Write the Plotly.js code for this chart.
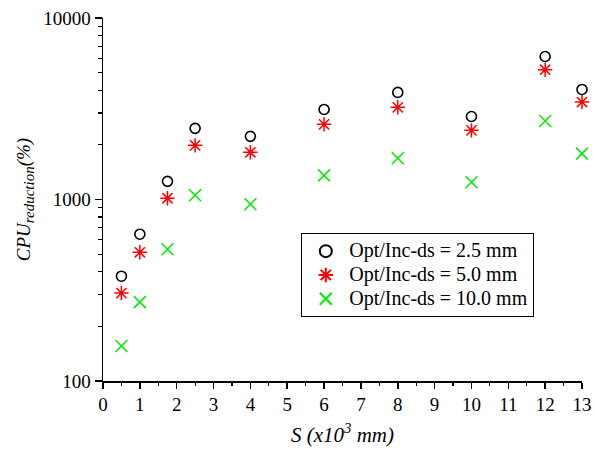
<!DOCTYPE html>
<html><head><meta charset="utf-8">
<script src="https://cdn.plot.ly/plotly-3.0.1.min.js"></script>
<style>body{margin:0;background:#fff}#c{width:594px;height:453px}</style>
</head><body><div id="c"></div>
<script>
const S = [0.5, 1, 1.75, 2.5, 4, 6, 8, 10, 12, 13];
const ds25 = [378, 644, 1259, 2466, 2228, 3134, 3890, 2866, 6137, 4040];
const ds50 = [305, 512, 1016, 1988, 1820, 2594, 3220, 2404, 5188, 3443];
const ds100 = [156, 272, 532, 1055, 941, 1358, 1686, 1244, 2704, 1790];
const names = ['Opt/Inc-ds = 2.5 mm', 'Opt/Inc-ds = 5.0 mm', 'Opt/Inc-ds = 10.0 mm'];
const xTicks = [0,1,2,3,4,5,6,7,8,9,10,11,12,13];
const yTicks = [100, 1000, 10000];

const font = {family: 'Liberation Serif, Times New Roman, serif', color: '#000'};
const big = n => '<span style="font-size:20px">' + n + '</span>';
const traces = [
  {x: S, y: ds25, name: big(names[0]), mode: 'markers', type: 'scatter', cliponaxis: false,
   marker: {symbol: 'circle-open', size: 10, color: '#000', line: {width: 1.6, color: '#000'}}},
  {x: S, y: ds50, name: big(names[1]), mode: 'markers', type: 'scatter', cliponaxis: false,
   marker: {symbol: 'asterisk-open', size: 12, color: '#ff0000', line: {width: 1.5, color: '#ff0000'}}},
  {x: S, y: ds100, name: big(names[2]), mode: 'markers', type: 'scatter', cliponaxis: false,
   marker: {symbol: 'x-thin-open', size: 12, color: '#00ee00', line: {width: 1.5, color: '#00ee00'}}}
];
const layout = {
  width: 594, height: 453,
  margin: {l: 103, r: 12, t: 18, b: 72},
  paper_bgcolor: '#fff', plot_bgcolor: '#fff',
  font: Object.assign({size: 19}, font),
  showlegend: true,
  legend: {x: 0.414, y: 0.407, xanchor: 'left', yanchor: 'top',
    bordercolor: '#000', borderwidth: 1, bgcolor: '#fff', itemwidth: 37,
    font: Object.assign({size: 16}, font), tracegroupgap: 0, itemsizing: 'constant'},
  xaxis: {
    range: [0, 13], tickvals: xTicks, ticktext: xTicks.map(String),
    showgrid: false, zeroline: false, showline: true, linecolor: '#000', linewidth: 1.5,
    ticks: 'outside', ticklen: 6, tickwidth: 1.5, tickcolor: '#000',
    minor: {dtick: 0.5, ticks: 'outside', ticklen: 3, tickwidth: 1.2, tickcolor: '#000', showgrid: false},
    tickfont: Object.assign({size: 19}, font),
    title: {text: '<i>S (x10<sup>3</sup> mm)</i>', font: Object.assign({size: 21}, font), standoff: 13}
  },
  yaxis: {
    type: 'log', range: [2, 4], tickvals: yTicks, ticktext: yTicks.map(String),
    showgrid: false, zeroline: false, showline: true, linecolor: '#000', linewidth: 1.5,
    ticks: 'outside', ticklen: 7, tickwidth: 1.5, tickcolor: '#000',
    minor: {dtick: 'D1', ticks: 'outside', ticklen: 4, tickwidth: 1.2, tickcolor: '#000', showgrid: false},
    tickfont: Object.assign({size: 19}, font),
    title: {text: '<i>CPU<sub><span style="font-size:15px">reduction</span></sub>(%)</i>', font: Object.assign({size: 19}, font), standoff: 7}
  }
};
Plotly.newPlot('c', traces, layout, {displayModeBar: false, staticPlot: true});
</script></body></html>
